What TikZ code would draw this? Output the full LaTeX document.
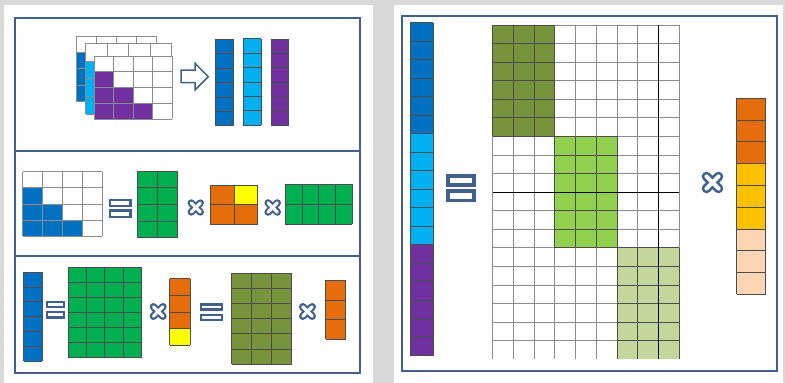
\documentclass[tikz,border=0pt]{standalone}
\usetikzlibrary{calc}
\definecolor{frame}{HTML}{41618C}
\definecolor{bgray}{HTML}{D9D9D9}
\definecolor{cblue}{HTML}{0070C0}
\definecolor{csky}{HTML}{00B0F0}
\definecolor{cpurple}{HTML}{7030A0}
\definecolor{cgreen}{HTML}{00B050}
\definecolor{corange}{HTML}{E46C0A}
\definecolor{cyellow}{HTML}{FFFF00}
\definecolor{colive}{HTML}{77933C}
\definecolor{clime}{HTML}{92D050}
\definecolor{cpale}{HTML}{C3D69B}
\definecolor{cgold}{HTML}{FFC000}
\definecolor{cpeach}{HTML}{FCD5B5}

% grid lines: x, y, cols, rows, cell w, cell h, style
\newcommand{\tiles}[7]{%
  \foreach \k in {0,...,#3} \draw[#7] ({#1+\k*#5},{#2}) -- ++(0,{#4*#6});
  \foreach \k in {0,...,#4} \draw[#7] ({#1},{#2+\k*#6}) -- ++({#3*#5},0);
}
% filled block of cells
\newcommand{\block}[7]{%
  \fill[#7] ({#1},{#2}) rectangle ++({#3*#5},{#4*#6});
  \tiles{#1}{#2}{#3}{#4}{#5}{#6}{dk}
}
% 4x4 staircase: x, y, cell w, cell h, colour
\newcommand{\stair}[5]{%
  \fill[white] ({#1},{#2}) rectangle ++({4*#3},{4*#4});
  \foreach \rr/\nn in {1/1,2/2,3/3} \fill[#5] ({#1},{#2+\rr*#4}) rectangle ++({\nn*#3},{#4});
  \tiles{#1}{#2}{4}{4}{#3}{#4}{ln}
}
% equals: x, y, width, bar height, gap, line width
\newcommand{\eqbars}[6]{%
  \foreach \q in {0,1}
    \draw[fr,line width=#6] ({#1+#6/2},{#2+#6/2+\q*(#4+#5)}) rectangle ++({#3-#6},{#4-#6});
}
% times: centre x, centre y, size
\newcommand{\xsign}[3]{%
  \foreach \cc/\ww in {frame/0.44, white/0.19}
    \draw[\cc,line width={\ww*#3},line cap=round]
      ({#1-0.28*#3},{#2-0.28*#3}) -- ({#1+0.28*#3},{#2+0.28*#3})
      ({#1-0.28*#3},{#2+0.28*#3}) -- ({#1+0.28*#3},{#2-0.28*#3});
}

\begin{document}
\begin{tikzpicture}[x=1pt,y=-1pt,
  fr/.style={draw=frame},
  ln/.style={draw=black!45,line width=0.8pt},
  dk/.style={draw=black!70,line width=0.8pt}]
  \useasboundingbox (0,0) rectangle (785,383);
  % panels
  \fill[bgray] (0,0) rectangle (785,383);
  \fill[white] (4,5) rectangle (373,383);
  \fill[white] (394,5) rectangle (783,383);
  \draw[fr,line width=2] (15,17.5) rectangle (360,372.5);
  \draw[fr,line width=2] (15,151) -- (360,151);
  \draw[fr,line width=2] (15,255.5) -- (360,255.5);
  \draw[fr,line width=2] (402,16) rectangle (777,371);

  % top row: stacked layers
  \stair{76.7}{36}{20}{16.4}{cblue}
  \stair{85.7}{43.3}{21.5}{17.75}{csky}
  \stair{94.3}{56}{19.5}{15.75}{cpurple}
  \draw[fr,line width=1.5,fill=white,line join=miter] (181,70) -- (195,70) -- (195,63.3) -- (208.3,76.7)
    -- (195,90) -- (195,82.7) -- (181,82.7) -- cycle;
  \block{215.7}{39.3}{1}{6}{17.6}{14.4}{cblue}
  \block{243.3}{38.7}{1}{6}{17.7}{14.43}{csky}
  \block{271}{39}{1}{6}{17.7}{14.4}{cpurple}

  % middle row
  \stair{22.7}{171.7}{19.9}{16.1}{cblue}
  \eqbars{109}{198.7}{22.7}{8.6}{2}{2.4}
  \block{137}{171}{2}{4}{20.35}{16.7}{cgreen}
  \xsign{195.8}{207.5}{16.4}
  \fill[corange] (210.3,185.3) rectangle ++({2*23.7},{2*19.35});
  \fill[cyellow] ({210.3+23.7},185.3) rectangle ++(23.7,19.35);
  \tiles{210.3}{185.3}{2}{2}{23.7}{19.35}{dk}
  \xsign{272.7}{207.5}{16.6}
  \block{285.3}{184.3}{4}{2}{16.68}{20}{cgreen}

  % bottom row
  \block{23.7}{272.3}{1}{6}{18.3}{14.78}{cblue}
  \eqbars{45.7}{300.7}{19.6}{7.6}{2.7}{2.4}
  \block{68.3}{267}{4}{6}{18.25}{15.12}{cgreen}
  \xsign{158.2}{311.5}{17}
  \fill[corange] (169.7,278.7) rectangle ++(20.3,{3*16.65});
  \fill[cyellow] (169.7,{278.7+3*16.65}) rectangle ++(20.3,16.65);
  \tiles{169.7}{278.7}{1}{4}{20.3}{16.65}{dk}
  \eqbars{200}{303.3}{23.3}{7.4}{3}{2.4}
  \block{231.7}{273.3}{3}{6}{20}{15.12}{colive}
  \xsign{307.5}{311.5}{17}
  \block{325.7}{280.3}{1}{3}{20}{19.67}{corange}

  % right panel: long column
  \foreach \cc [count=\i from 0] in {cblue,csky,cpurple}
    \block{410}{22.7+\i*6*18.5}{1}{6}{23.3}{18.5}{\cc}
  \eqbars{446}{174}{29.5}{12.7}{2.6}{3.5}
  % block diagonal grid
  \fill[colive] (492.7,25) rectangle ++({3*20.73},{6*18.57});
  \fill[clime] (554.89,136.42) rectangle ++({3*20.73},{6*18.57});
  \fill[cpale] (617.08,247.84) rectangle ++({3*20.73},{6*18.57});
  \foreach \k in {0,...,9} \draw[ln] ({492.7+\k*20.73},25) -- ++(0,{18*18.57});
  \foreach \k in {0,...,17} \draw[ln] (492.7,{25+\k*18.57}) -- ++({9*20.73},0);
  \tiles{492.7}{25}{3}{6}{20.73}{18.57}{dk}
  \tiles{554.89}{136.42}{3}{6}{20.73}{18.57}{dk}
  \foreach \k in {0,...,3} \draw[dk] ({617.08+\k*20.73},247.84) -- ++(0,{6*18.57});
  \foreach \k in {0,...,5} \draw[dk] (617.08,{247.84+\k*18.57}) -- ++({3*20.73},0);
  \draw[black,line width=1] ({492.7+8*20.73},25) -- ++(0,{18*18.57});
  \draw[black,line width=1] (492.7,{25+9*18.57}) -- ++({9*20.73},0);
  \xsign{712.5}{182.5}{21.6}
  % right column
  \block{736.7}{98.3}{1}{3}{29}{21.78}{corange}
  \block{736.7}{163.6}{1}{3}{29}{21.78}{cgold}
  \block{736.7}{229}{1}{3}{29}{21.78}{cpeach}
\end{tikzpicture}
\end{document}
